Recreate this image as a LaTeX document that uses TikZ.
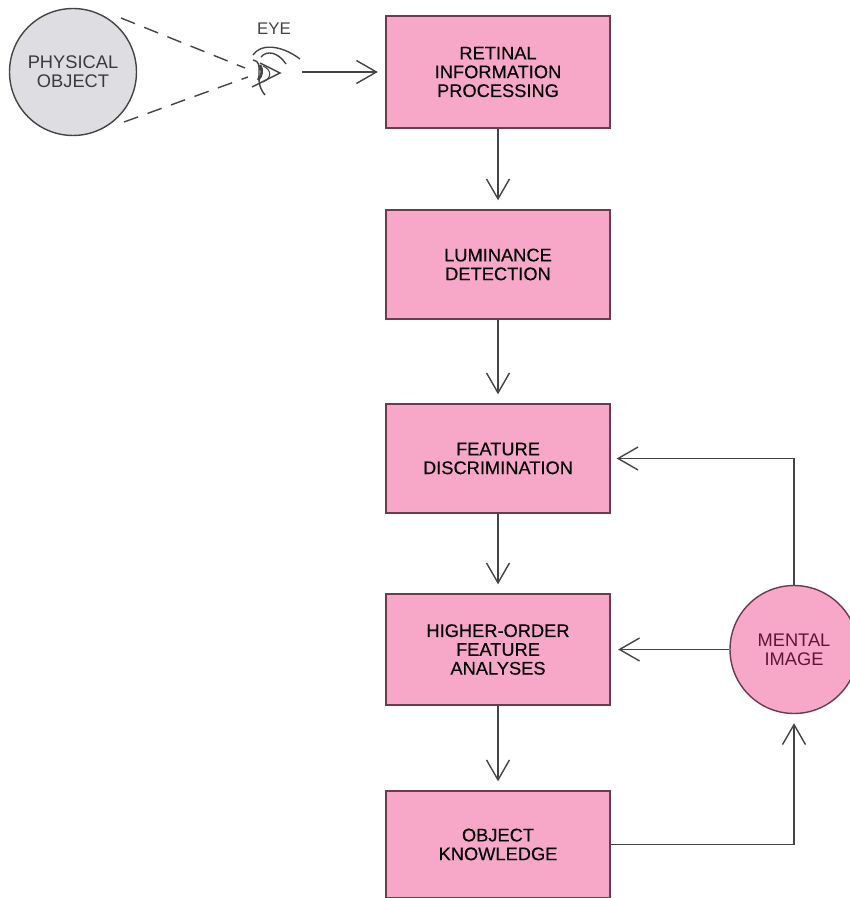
\documentclass[tikz,border=0pt]{standalone}
\usepackage{fontspec}
\setmainfont{Liberation Sans}
\newfontfamily\boxfont{Liberation Sans}[FakeBold=0.25]
\usetikzlibrary{arrows.meta}
\definecolor{boxpink}{HTML}{F7A8C8}
\definecolor{objgray}{HTML}{DEDEE2}
\definecolor{inkgray}{HTML}{444444}
\definecolor{boxedge}{HTML}{6E3A50}
\definecolor{mentalink}{HTML}{5E1638}
\tikzset{
	procbox/.style={rectangle, draw=boxedge, line width=0.8pt, fill=boxpink, minimum width=4.48cm, minimum height=2.18cm, align=center, inner sep=0pt, font=\boxfont\fontsize{10.4}{10.7}\selectfont, text=black},
	textdrop/.style={execute at begin node={\rule{0pt}{10pt}}},
	arr/.style={draw=inkgray, line width=0.8pt, -{Straight Barb[length=0.4cm,width=0.46cm,line width=0.8pt]}, shorten >=0.18cm},
	blob/.style={circle, line width=0.8pt, inner sep=0pt, align=center, font=\fontsize{10.4}{11}\selectfont},
	eyeline/.style={draw=inkgray, line width=0.8pt},
	sight/.style={draw=inkgray, line width=0.8pt, dash pattern=on 0.3cm off 0.2cm}
}

\begin{document}
\begin{tikzpicture}[x=0.02cm,y=-0.02cm]
	\useasboundingbox (0,0) rectangle (849,898);
	\node[blob, draw=inkgray, fill=objgray, minimum size=2.54cm, text=inkgray!85!black] (physical) at (73,72) {PHYSICAL\\OBJECT};
	\node[font=\fontsize{9.6}{11}\selectfont, text=inkgray] (eyelabel) at (274,29) {EYE};
	\node[procbox, minimum height=2.24cm] (retinal) at (498,72) {RETINAL\\INFORMATION\\PROCESSING};
	\node[procbox, textdrop] (luminance) at (498,264.5) {LUMINANCE\\DETECTION};
	\node[procbox, textdrop] (feature) at (498,458.5) {FEATURE\\DISCRIMINATION};
	\node[procbox, minimum height=2.22cm] (higher) at (498,649.5) {HIGHER-ORDER\\FEATURE\\ANALYSES};
	\node[procbox, minimum height=2.14cm] (object) at (498,844.5) {OBJECT\\KNOWLEDGE};
	\node[blob, fill=boxpink, draw=boxedge, minimum size=2.56cm, text=mentalink] (mental) at (794,649.5) {MENTAL\\IMAGE};

	% sight lines and eye
	\coordinate (topfar) at (121,18);
	\coordinate (topeye) at (245,68);
	\coordinate (lowfar) at (124,122);
	\coordinate (loweye) at (248,77);
	\coordinate (eyeout) at (302,72);
	\draw[sight] (topfar) -- (topeye);
	\draw[sight] (lowfar) -- (loweye);
	\draw[eyeline] (253,55) .. controls (260,44) and (280,44) .. (300,59);
	\draw[eyeline] (261,57) .. controls (267,50) and (278,52) .. (286,64);
	\draw[eyeline] (253,60) .. controls (266,62) and (252,80) .. (265,95);
	\draw[eyeline] (260,63) -- (280,73) -- (252,87);
	\draw[draw=inkgray, line width=1.5pt] (260,65) .. controls (263,70) and (262,76) .. (258,80);
	\draw[eyeline, line width=0.6pt] (263,66) .. controls (272,70) and (272,78) .. (263,82);

	% forward path
	\draw[arr, shorten >=0.15cm] (eyeout) -- (retinal.west);
	\draw[arr] (retinal) -- (luminance);
	\draw[arr] (luminance) -- (feature);
	\draw[arr] (feature) -- (higher);
	\draw[arr] (higher) -- (object);
	% feedback
	\draw[arr] (object.east) -| (mental.south);
	\draw[arr, shorten >=0.15cm] (mental.west) -- (higher.east);
	\draw[arr, shorten >=0.12cm] (mental.north) |- (feature.east);
\end{tikzpicture}
\end{document}
